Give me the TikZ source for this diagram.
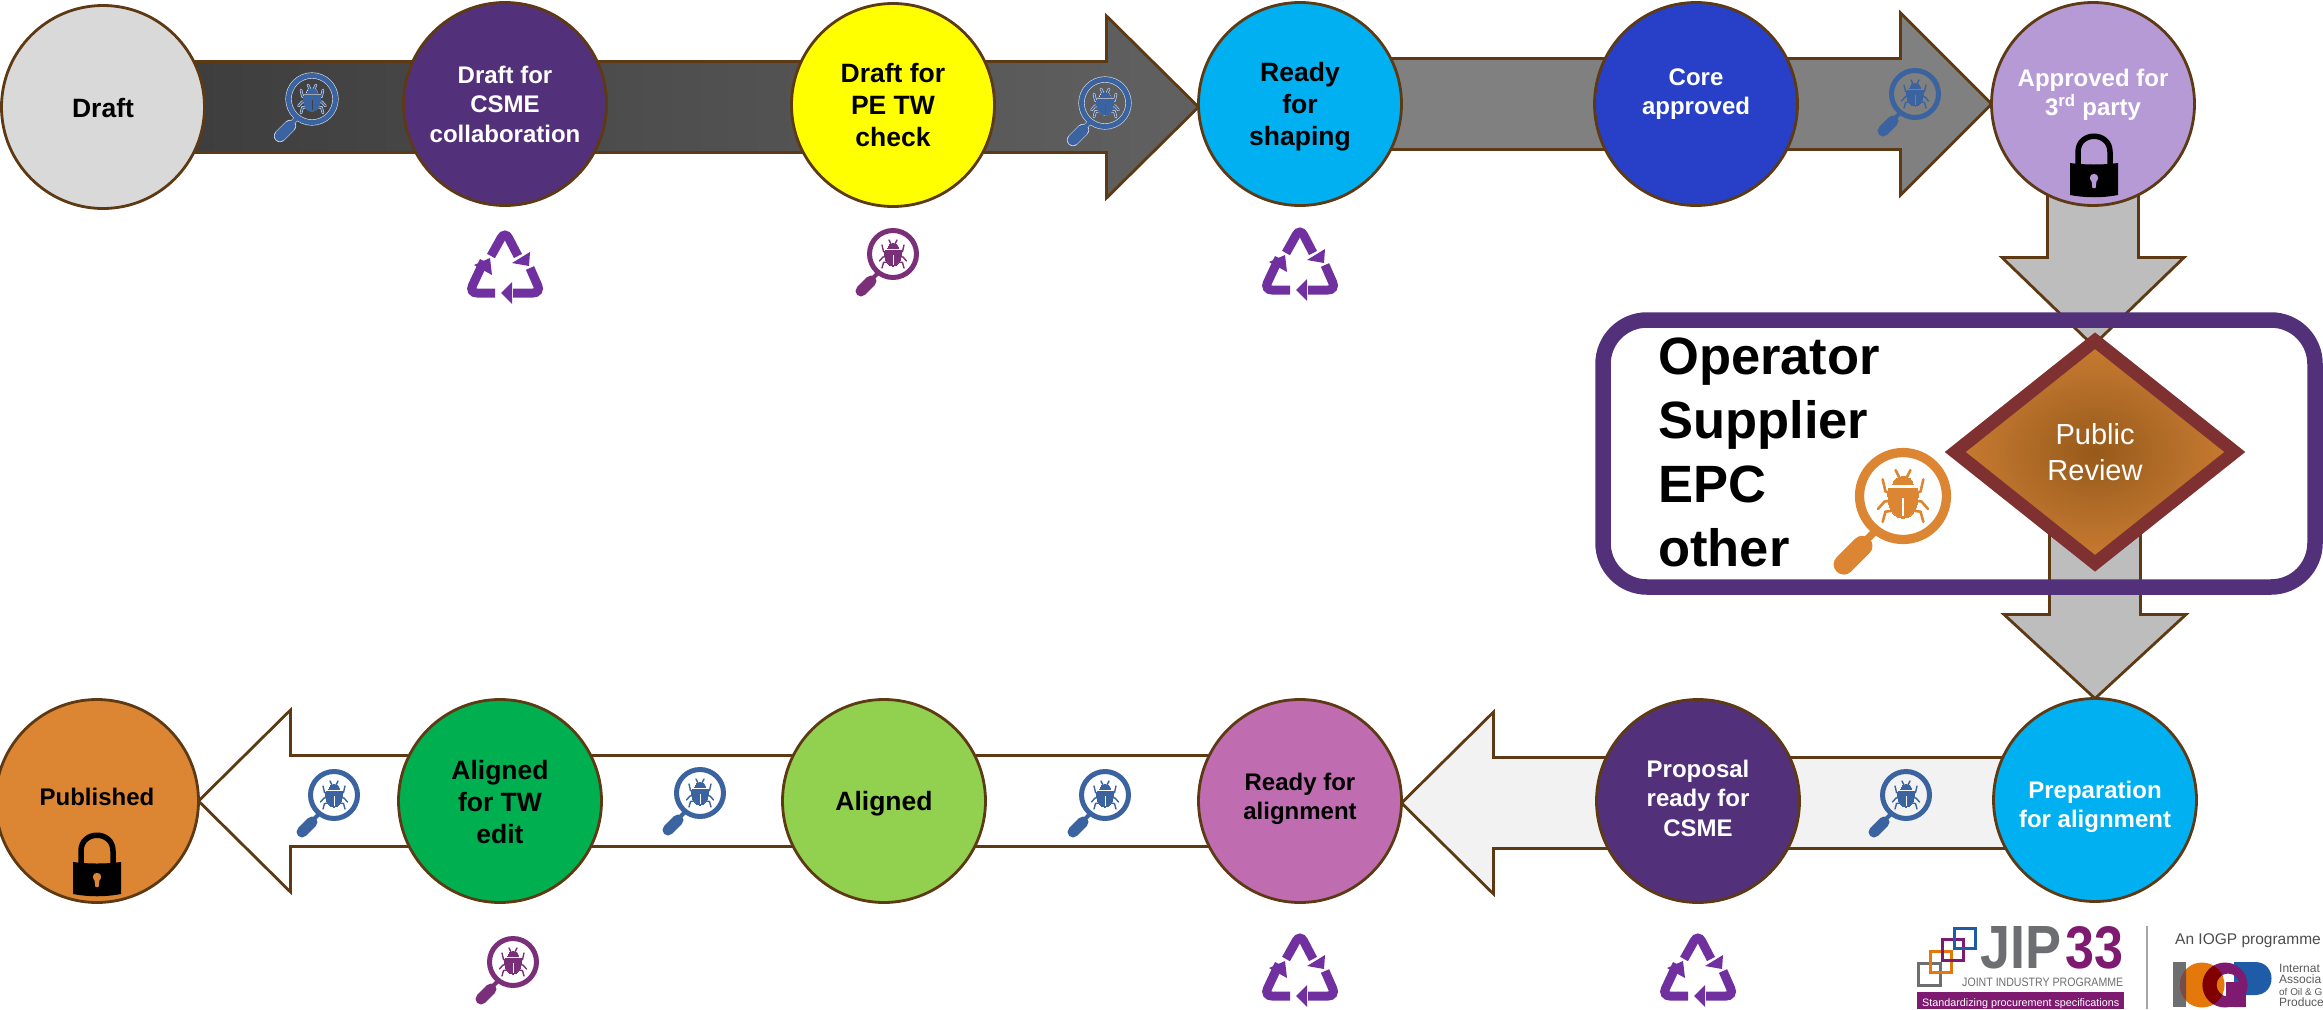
\documentclass[tikz,border=0pt]{standalone}
\usepackage{fontspec}
\usepackage{graphicx}
\setmainfont{Liberation Sans}
\usetikzlibrary{calc,shapes.geometric}
\definecolor{edgebrown}{HTML}{5E3A14}
\definecolor{deeppurple}{HTML}{53317A}
\definecolor{skyblue}{HTML}{00B0F0}
\definecolor{coreblue}{HTML}{2840C8}
\definecolor{lilac}{HTML}{B69AD6}
\definecolor{orchid}{HTML}{C06CB0}
\definecolor{lime}{HTML}{92D050}
\definecolor{green2}{HTML}{00B050}
\definecolor{amber}{HTML}{DC8633}
\definecolor{sunny}{rgb}{1,1,0}
\definecolor{bugblue}{HTML}{3A639F}
\definecolor{bugpurple}{HTML}{7B2F79}
\definecolor{recyc}{HTML}{7030A0}
\definecolor{wine}{HTML}{7F3030}
\definecolor{haloc}{HTML}{D5DDED}
\definecolor{logogray}{HTML}{6D6E71}
\definecolor{logopurple}{HTML}{7E1A6F}
\definecolor{logoorange}{HTML}{E5780A}
\definecolor{logoblue}{HTML}{1F5CA8}
\pgfdeclarelayer{arrows}
\pgfsetlayers{arrows,main}
\pgfdeclareradialshading{pubshade}{\pgfpointorigin}{rgb(0bp)=(.59,.35,.10);rgb(16bp)=(.72,.44,.17);rgb(34bp)=(.86,.525,.20);rgb(44bp)=(.88,.60,.34);rgb(50bp)=(.89,.63,.40)}
\tikzset{
  station/.style={circle,draw=edgebrown,line width=2.8pt,minimum size=203pt,inner sep=0pt,outer sep=0pt},
  lab/.style={align=center,inner sep=0pt,font=\bfseries\fontsize{24}{29.5}\selectfont},
  labbig/.style={align=center,inner sep=0pt,font=\bfseries\fontsize{26.5}{32}\selectfont},
  blockedge/.style={draw=edgebrown,line width=2.8pt,line join=miter},
}
% style, from, to, head length
\newcommand\blockarrow[4]{%
  \coordinate (hb) at ($(#3)!#4pt!(#2)$);
  \draw[blockedge,#1] ($(#2)!45.5pt!90:(#3)$) -- ($(hb)!45.5pt!-90:(#2)$) -- ($(hb)!91pt!-90:(#2)$) -- (#3)
     -- ($(hb)!91pt!90:(#2)$) -- ($(hb)!45.5pt!90:(#2)$) -- ($(#2)!45.5pt!-90:(#3)$) -- cycle;
}
\newcommand\bugshape[3]{% colour, extra width, slit colour
  \draw[#1,line width={5pt*\ics+#2pt}] (0,0) circle[radius=23.5];
  \draw[#1,line width={4pt*\ics+#2pt}] (-15,19) -- (-21,25);
  \draw[#1,line width={11pt*\ics+#2pt},line cap=round] (-22,27) -- (-32,37);
  \draw[#1,line width={1.4pt*\ics+#2pt},line cap=round]
     (-2,-10) -- (-4,-14) (2,-10) -- (4,-14)
     (-7,-1.5) -- (-9.5,-2.5) -- (-11,-9) (7,-1.5) -- (9.5,-2.5) -- (11,-9)
     (-6,2.5) -- (-10,3) -- (-13.5,7) (6,2.5) -- (10,3) -- (13.5,7)
     (-6,8) -- (-9.5,8.5) -- (-11,14) (6,8) -- (9.5,8.5) -- (11,14);
  \path[fill=#1,draw=#1,line width=#2pt] (-5.5,-6) .. controls (-5.5,-12) and (5.5,-12) .. (5.5,-6) -- cycle;
  \path[fill=#1,draw=#1,line width=#2pt] (-8,-4) -- (8,-4) .. controls (9,7) and (5,12) .. (0,12) .. controls (-5,12) and (-9,7) .. (-8,-4) -- cycle;
  \draw[#3,line width={.9pt*\ics}] (0,1) -- (0,11);
}
\newcommand\bugicon[3]{% position, colour, slit colour
  \begin{scope}[shift={(#1)}]\def\ics{1}\bugshape{#2}{0}{#3}\end{scope}}
\newcommand\bugiconhalo[3]{%
  \begin{scope}[shift={(#1)}]\def\ics{1}\bugshape{haloc}{1.2}{haloc}\bugshape{#2}{0}{#3}\end{scope}}
\newcommand\recycle[1]{%
  \begin{scope}[shift={(#1)}]
    \draw[recyc,line width=9pt,rounded corners=8pt] (-14,-12) -- (0,-37) -- (13,-12);
    \fill[recyc] (25,-16) -- (24,-2) -- (7,-5) -- cycle;
    \draw[recyc,line width=9pt,rounded corners=8pt] (25,0) -- (36,25) -- (8,25);
    \fill[recyc] (-4,25) -- (7,14) -- (7,36) -- cycle;
    \draw[recyc,line width=9pt,rounded corners=8pt] (-10,25) -- (-36,25) -- (-21,-7);
    \fill[recyc] (-15,-10) -- (-31,-3) -- (-13,7) -- cycle;
  \end{scope}}
\newcommand\lockicon[2]{% position (top of shackle, centre), keyhole colour
  \begin{scope}[shift={(#1)}]
    \draw[black,line width=5.5pt] (-16,30) -- (-16,17) .. controls (-16,-4) and (16,-4) .. (16,17) -- (16,30);
    \fill[black] (-24,28) .. controls (-8,30) and (8,30) .. (24,28) -- (24,60) .. controls (8,63) and (-8,63) .. (-24,60) -- cycle;
    \fill[#2] (0,43) circle[radius=4.2];
    \fill[#2] (-2.6,45) -- (2.6,45) -- (1.6,53) -- (-1.6,53) -- cycle;
  \end{scope}}
\begin{document}
\begin{tikzpicture}[x=1pt,y=-1pt]
\useasboundingbox (0,0) rectangle (2323,1009);
% stations
\node[station,fill=black!15] (draft) at (103,107) {};
\node[station,fill=deeppurple] (csme) at (505,104) {};
\node[station,fill=sunny] (petw) at (893,105) {};
\node[station,fill=skyblue] (ready) at (1300,104) {};
\node[station,fill=coreblue] (core) at (1696,104) {};
\node[station,fill=lilac] (approved) at (2093,104) {};
\node[station,fill=skyblue] (prep) at (2095,800) {};
\node[station,fill=deeppurple] (proposal) at (1698,801) {};
\node[station,fill=orchid] (readyal) at (1300,801) {};
\node[station,fill=lime] (aligned) at (884,801) {};
\node[station,fill=green2] (alignedtw) at (500,801) {};
\node[station,fill=amber] (published) at (97,801) {};
% labels
\node[lab,font=\bfseries\fontsize{26.5}{32}\selectfont] (tdraft) at ($(draft)+(0,1)$) {Draft};
\node[lab,text=white] (tcsme) at ($(csme)+(0,0)$) {Draft for\\CSME\\collaboration};
\node[labbig] (tpetw) at ($(petw)+(0,0)$) {Draft for\\PE TW\\check};
\node[labbig] (tready) at ($(ready)+(0,3)$) {Ready\\for\\shaping};
\node[lab,text=white] (tcore) at ($(core)+(0,-10)$) {Core\\approved};
\node[lab,text=white] (tapproved) at ($(approved)+(0,-9)$) {Approved for\\3\textsuperscript{rd} party};
\node[lab,text=white] (tprep) at ($(prep)+(0,7)$) {Preparation\\for alignment};
\node[lab,text=white] (tproposal) at ($(proposal)+(0,-3)$) {Proposal\\ready for\\CSME};
\node[lab] (treadyal) at ($(readyal)+(0,-2)$) {Ready for\\alignment};
\node[labbig] (taligned) at ($(aligned)+(0,3)$) {Aligned};
\node[labbig] (talignedtw) at ($(alignedtw)+(0,1)$) {Aligned\\for TW\\edit};
\node[lab] (tpublished) at ($(published)+(0,-4)$) {Published};
% public review diamond
\node[diamond,aspect=1.25,minimum width=285pt,minimum height=228pt,inner sep=0pt,
      draw=wine,line width=13pt,shading=pubshade,text=white,align=center,
      font=\fontsize{29}{36}\selectfont] (pub) at (2095,452) {Public\\Review};
% block arrows (behind the stations)
\coordinate (t1) at (draft -| ready.west);
\coordinate (t2) at (ready -| approved.west);
\coordinate (s4) at ($(prep)+(0,3)$);
\coordinate (t4) at (s4 -| readyal.east);
\coordinate (t3) at (readyal -| published.east);
\coordinate (t5) at ($(approved |- pub.north)+(0,14)$);
\coordinate (t6) at (pub |- prep.north);
\begin{pgfonlayer}{arrows}
  \blockarrow{left color=black!77,right color=black!62}{draft}{t1}{92}
  \blockarrow{fill=black!50}{ready}{t2}{91}
  \blockarrow{fill=black!26}{approved}{t5}{88}
  \blockarrow{fill=black!26}{pub}{t6}{84}
  \blockarrow{fill=black!5}{s4}{t4}{92}
  \blockarrow{fill=white}{readyal}{t3}{92}
\end{pgfonlayer}
% magnifiers
\bugiconhalo{312,99}{bugblue}{black!75}
\bugiconhalo{1105,103}{bugblue}{black!65}
\bugicon{1915,94}{bugblue}{black!50}
\bugicon{1906,795}{bugblue}{black!5}
\bugicon{1105,795}{bugblue}{white}
\bugicon{700,793}{bugblue}{white}
\bugicon{334,795}{bugblue}{white}
\bugicon{513,962}{bugpurple}{white}
\bugicon{893,254}{bugpurple}{white}
% recycling marks
\recycle{505,268}
\recycle{1300,265}
\recycle{1698,971}
\recycle{1300,971}
% locks
\lockicon{2094,135}{lilac}
\lockicon{97,834}{amber}
% review frame
\draw[deeppurple,line width=15.5pt,rounded corners=44pt] (1603,320) rectangle (2315,587);
\node[inner sep=0pt,anchor=north west,align=left,font=\bfseries\fontsize{52.5}{64}\selectfont] (roles) at (1658,338) {Operator\\Supplier\\EPC\\other};
\begin{scope}[shift={(1903,496)},scale=1.85]\def\ics{1.85}\bugshape{amber}{0}{white}\end{scope}
% logo
\draw[logogray,line width=3pt] (1918.5,963.5) rectangle (1940,985);
\draw[logoorange,line width=3pt] (1930.5,951.5) rectangle (1951,972);
\draw[logopurple,line width=3pt] (1942.5,939.5) rectangle (1963,960.5);
\draw[logoblue,line width=3pt] (1954.5,928.5) rectangle (1975,948.5);
\node[inner sep=0pt,anchor=north west,text=logogray,font=\bfseries] (jip) at (1980,926.5) {\resizebox{81pt}{42pt}{JIP}};
\node[inner sep=0pt,anchor=north west,text=logopurple,font=\bfseries] (num) at (2065,926.5) {\resizebox{58pt}{42pt}{33}};
\node[inner sep=0pt,anchor=north west,text=logogray] (jointp) at (1962,977.5) {\resizebox{161pt}{8.5pt}{JOINT INDUSTRY PROGRAMME}};
\fill[logopurple] (1917,992) rectangle (2124,1009);
\node[inner sep=0pt,anchor=base west,text=white,font=\fontsize{12}{12}\selectfont] (stdz) at (1922,1006) {\resizebox{197pt}{!}{Standardizing procurement specifications}};
\coordinate (sepa) at (2147,926);
\coordinate (sepb) at (2147,1009);
\draw[black!35,line width=1.2pt] (sepa) -- (sepb);
\node[inner sep=0pt,anchor=base west,text=black!70,font=\fontsize{15.5}{15.5}\selectfont] (anprog) at (2175,944) {An IOGP programme};
% IOGP mark
\fill[logogray] (2173,962) rectangle (2186,1007);
\fill[logoblue] (2234,962) -- (2255,962) .. controls (2277,962) and (2277,995) .. (2255,995) -- (2245,995) -- (2245,1007) -- (2234,1007) -- cycle;
\fill[logoorange] (2202,985) circle[radius=22.5];
\begin{scope}\clip (2173,962) rectangle (2186,1007);\fill[black!75!red!70] (2202,985) circle[radius=22.5];\end{scope}
\fill[logopurple,even odd rule] (2225,985) circle[radius=22.5] (2228,985) circle[radius=11.5];
\begin{scope}\clip (2202,985) circle[radius=22.5];\fill[red!50!black,even odd rule] (2225,985) circle[radius=22.5] (2228,985) circle[radius=11.5];\end{scope}
\fill[logopurple] (2226,982) rectangle (2246,1007);
\node[inner sep=0pt,anchor=base west,text=black!65,font=\fontsize{12}{12}\selectfont] (la) at (2279,972) {Internat};
\node[inner sep=0pt,anchor=base west,text=black!65,font=\fontsize{12}{12}\selectfont] (lb) at (2279,983) {Associa};
\node[inner sep=0pt,anchor=base west,text=black!65,font=\fontsize{12}{12}\selectfont] (lc) at (2279,995) {\resizebox{43pt}{!}{of Oil \& G}};
\node[inner sep=0pt,anchor=base west,text=black!65,font=\fontsize{12}{12}\selectfont] (ld) at (2279,1006) {Produce};
\end{tikzpicture}
\end{document}
